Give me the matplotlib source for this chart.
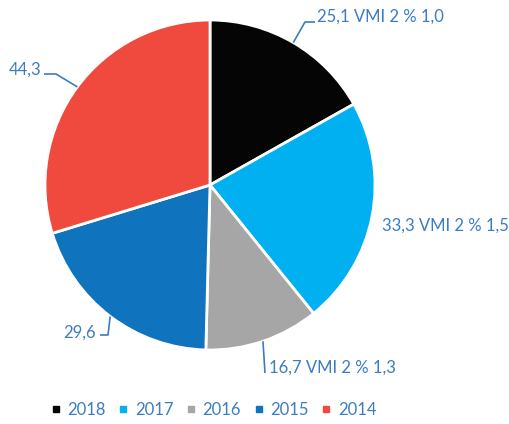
import matplotlib.pyplot as plt
import numpy as np
from matplotlib.lines import Line2D

years = ['2018', '2017', '2016', '2015', '2014']
values = [25.1, 33.3, 16.7, 29.6, 44.3]
labels = ['25,1 VMI 2 % 1,0', '33,3 VMI 2 % 1,5', '16,7 VMI 2 % 1,3', '29,6', '44,3']
colors = ['#050505', '#00b0f0', '#a6a6a6', '#0f73bd', '#ef4a3d']

W, H = 510, 424
txt_col = '#3b7cc4'
plt.rcParams['font.family'] = ['Lato', 'DejaVu Sans']

fig = plt.figure(figsize=(W / 100, H / 100), dpi=100)
ax = fig.add_axes([0, 0, 1, 1])

cx, cy, r = 210, H - 185, 165
wedges, _ = ax.pie(values, colors=colors, startangle=90, counterclock=False,
                   center=(cx, cy), radius=r,
                   wedgeprops=dict(edgecolor='white', linewidth=2))
ax.set_xlim(0, W)
ax.set_ylim(0, H)
ax.set_aspect('equal')
ax.axis('off')

# label anchor positions (pixels from top-left) and elbow points of the leader lines
text_pos = [(317, 17), (382, 226), (269, 368), (96, 333), (41, 70)]
elbows = [[(305, 22), (315, 22)],
          None,
          [(265, 373)],
          [(108, 335), (100, 335)],
          [(56, 74), (44, 74)]]
aligns = ['left', 'left', 'left', 'right', 'right']

for w, lab, (tx, ty), elb, ha in zip(wedges, labels, text_pos, elbows, aligns):
    mid = np.deg2rad((w.theta1 + w.theta2) / 2)
    ex, ey = cx + r * np.cos(mid), cy + r * np.sin(mid)
    if elb is not None:
        xs = [ex] + [p[0] for p in elb]
        ys = [ey] + [H - p[1] for p in elb]
        ax.plot(xs, ys, color=txt_col, lw=1.2, solid_capstyle='butt')
    ax.text(tx, H - ty, lab, ha=ha, va='center', fontsize=12, color=txt_col)

handles = [Line2D([], [], marker='s', color=c, linestyle='none', markersize=4.5)
           for c in colors]
leg = ax.legend(handles, years, loc='center', bbox_to_anchor=(214 / W, 14 / H),
                ncol=5, frameon=False, fontsize=12, handlelength=0.5,
                handletextpad=0.45, columnspacing=0.8)
for t in leg.get_texts():
    t.set_color(txt_col)

fig.savefig('out.png', dpi=100)
